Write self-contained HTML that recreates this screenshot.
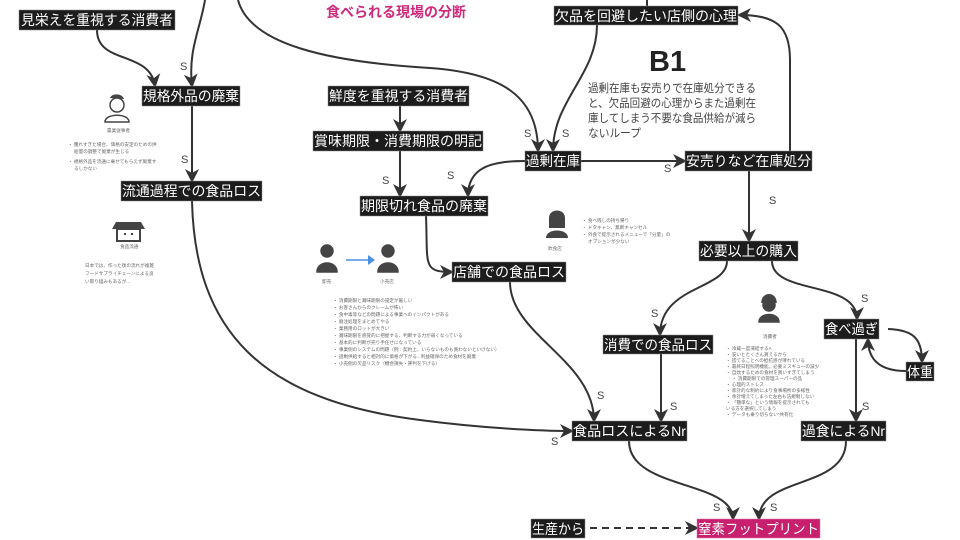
<!DOCTYPE html>
<html><head><meta charset="utf-8"><style>
html,body{margin:0;padding:0;background:#fff;}
svg{display:block;font-family:"Liberation Sans","Noto Sans CJK JP",sans-serif;}
.n rect{fill:#1c1c1c;stroke:#888;stroke-width:.5}
.n text{fill:#fff;font-size:14px;}
.e{fill:none;stroke:#333;stroke-width:2}
.s{font-size:11px;fill:#444;}
.t{font-size:4.6px;fill:#666;}
.ic{fill:#444;}
</style></head><body>
<svg width="960" height="540" viewBox="0 0 960 540" xmlns="http://www.w3.org/2000/svg">
<defs>
<marker id="a2" markerWidth="14" markerHeight="14" refX="12" refY="7" orient="auto" markerUnits="userSpaceOnUse" viewBox="0 0 14 14"><path d="M0,0 L14,7 L0,14 L4,7 z" fill="#333"/></marker>
</defs>
<!-- edges -->
<path class="e" marker-end="url(#a2)" d="M205,0 C200,30 188,50 192,86"/>
<path class="e" marker-end="url(#a2)" d="M97,30 C97,65 150,50 155,86"/>
<path class="e" marker-end="url(#a2)" d="M192,106 L192,181"/>
<path class="e" marker-end="url(#a2)" d="M192,201 C195,330 260,400 420,420 C480,428 540,431 572,431"/>
<path class="e" marker-end="url(#a2)" d="M238,0 C250,45 330,62 430,68 C500,73 538,95 538,151"/>
<path class="e" marker-end="url(#a2)" d="M597,25 C597,75 553,100 553,151"/>
<path class="e" d="M647,0 L647,6"/>
<path class="e" marker-end="url(#a2)" d="M581,161 L685,161"/>
<path class="e" marker-end="url(#a2)" d="M525,161 C490,161 468,168 468,196"/>
<path class="e" marker-end="url(#a2)" d="M400,106 L400,131"/>
<path class="e" marker-end="url(#a2)" d="M400,150 L400,196"/>
<path class="e" marker-end="url(#a2)" d="M426,216 C428,265 422,272 452,272"/>
<path class="e" marker-end="url(#a2)" d="M790,151 L790,60 C790,25 775,15 739,15"/>
<path class="e" marker-end="url(#a2)" d="M749,171 L749,241"/>
<path class="e" marker-end="url(#a2)" d="M727,261 C727,290 660,285 660,335"/>
<path class="e" marker-end="url(#a2)" d="M772,261 C772,295 857,280 857,319"/>
<path class="e" marker-end="url(#a2)" d="M510,282 C510,335 594,360 594,421"/>
<path class="e" marker-end="url(#a2)" d="M661,353 L661,421"/>
<path class="e" marker-end="url(#a2)" d="M856,339 L856,421"/>
<path class="e" marker-end="url(#a2)" d="M888,329 C915,330 922,340 922,362"/>
<path class="e" marker-end="url(#a2)" d="M906,371 C880,371 868,360 868,339"/>
<path class="e" marker-end="url(#a2)" d="M629,441 C629,490 733,480 733,519"/>
<path class="e" marker-end="url(#a2)" d="M846,441 C846,490 759,475 759,519"/>
<path class="e" stroke-dasharray="7,5" marker-end="url(#a2)" d="M590,528 L697,528"/>
<!-- S labels -->
<text class="s" x="180" y="70">S</text>
<text class="s" x="181" y="163">S</text>
<text class="s" x="524" y="137">S</text>
<text class="s" x="562" y="137">S</text>
<text class="s" x="664" y="172">S</text>
<text class="s" x="382" y="184">S</text>
<text class="s" x="447" y="179">S</text>
<text class="s" x="769" y="204">S</text>
<text class="s" x="651" y="317">S</text>
<text class="s" x="861" y="302">S</text>
<text class="s" x="597" y="399">S</text>
<text class="s" x="670" y="410">S</text>
<text class="s" x="862" y="410">S</text>
<text class="s" x="551" y="445">S</text>
<text class="s" x="713" y="511">S</text>
<text class="s" x="770" y="511">S</text>
<!-- nodes -->
<g class="n"><rect x="19" y="10" width="156" height="20"/><text x="21" y="25" textLength="152" lengthAdjust="spacingAndGlyphs">見栄えを重視する消費者</text></g>
<g class="n"><rect x="142" y="86" width="98" height="20"/><text x="143" y="101" textLength="96" lengthAdjust="spacingAndGlyphs">規格外品の廃棄</text></g>
<g class="n"><rect x="121" y="181" width="141" height="20"/><text x="122" y="196" textLength="139" lengthAdjust="spacingAndGlyphs">流通過程での食品ロス</text></g>
<g class="n"><rect x="328" y="86" width="141" height="20"/><text x="329" y="101" textLength="139" lengthAdjust="spacingAndGlyphs">鮮度を重視する消費者</text></g>
<g class="n"><rect x="313" y="131" width="170" height="20"/><text x="314" y="146" textLength="168" lengthAdjust="spacingAndGlyphs">賞味期限・消費期限の明記</text></g>
<g class="n"><rect x="360" y="196" width="128" height="20"/><text x="361" y="211" textLength="126" lengthAdjust="spacingAndGlyphs">期限切れ食品の廃棄</text></g>
<g class="n"><rect x="452" y="262" width="114" height="20"/><text x="453" y="277" textLength="112" lengthAdjust="spacingAndGlyphs">店舗での食品ロス</text></g>
<g class="n"><rect x="554" y="6" width="184" height="19"/><text x="555" y="21" textLength="182" lengthAdjust="spacingAndGlyphs">欠品を回避したい店側の心理</text></g>
<g class="n"><rect x="525" y="151" width="56" height="20"/><text x="526" y="166" textLength="54" lengthAdjust="spacingAndGlyphs">過剰在庫</text></g>
<g class="n"><rect x="685" y="151" width="127" height="20"/><text x="686" y="166" textLength="125" lengthAdjust="spacingAndGlyphs">安売りなど在庫処分</text></g>
<g class="n"><rect x="699" y="241" width="99" height="20"/><text x="700" y="256" textLength="97" lengthAdjust="spacingAndGlyphs">必要以上の購入</text></g>
<g class="n"><rect x="603" y="335" width="110" height="19"/><text x="604" y="350" textLength="108" lengthAdjust="spacingAndGlyphs">消費での食品ロス</text></g>
<g class="n"><rect x="824" y="319" width="55" height="20"/><text x="825" y="334" textLength="53" lengthAdjust="spacingAndGlyphs">食べ過ぎ</text></g>
<g class="n"><rect x="906" y="362" width="28" height="19"/><text x="907" y="377" textLength="26" lengthAdjust="spacingAndGlyphs">体重</text></g>
<g class="n"><rect x="572" y="421" width="115" height="20"/><text x="573" y="436" textLength="113" lengthAdjust="spacingAndGlyphs">食品ロスによるNr</text></g>
<g class="n"><rect x="801" y="421" width="85" height="20"/><text x="802" y="436" textLength="83" lengthAdjust="spacingAndGlyphs">過食によるNr</text></g>
<g class="n"><rect x="531" y="519" width="54" height="19"/><text x="532" y="534" textLength="52" lengthAdjust="spacingAndGlyphs">生産から</text></g>
<g><rect x="697" y="519" width="123" height="19" fill="#c8206e" stroke="#e070a0" stroke-width=".5"/><text x="698" y="534" fill="#fff" font-size="14" textLength="121" lengthAdjust="spacingAndGlyphs">窒素フットプリント</text></g>
<!-- title, B1 -->
<text x="326" y="17" fill="#d0287a" font-size="14" font-weight="bold" textLength="140" lengthAdjust="spacingAndGlyphs">食べられる現場の分断</text>
<text x="649" y="71" fill="#222" font-size="29" font-weight="bold">B1</text>
<g fill="#444" font-size="11.5"><text x="588" y="92" textLength="168" lengthAdjust="spacingAndGlyphs">過剰在庫も安売りで在庫処分できる</text><text x="588" y="107" textLength="168" lengthAdjust="spacingAndGlyphs">と、欠品回避の心理からまた過剰在</text><text x="588" y="122" textLength="168" lengthAdjust="spacingAndGlyphs">庫してしまう不要な食品供給が減ら</text><text x="588" y="137" textLength="53" lengthAdjust="spacingAndGlyphs">ないループ</text></g>
<!-- icons -->
<g class="ic"><circle cx="117" cy="105" r="7" fill="none" stroke="#444" stroke-width="1.5"/><path d="M105,122 C105,113 129,113 129,122 Z" fill="none" stroke="#444" stroke-width="1.5"/><path d="M110,98 C112,93 122,93 124,99 Z"/></g>
<text class="t" x="107" y="132">農業従事者</text>
<text class="t" x="68" y="146">・ 獲れすぎた場合、価格の安定のための供</text><text class="t" x="74" y="153">給量の調整で廃棄が生じる</text>
<text class="t" x="68" y="163">・ 規格外品を流通に乗せてもらえず廃棄す</text><text class="t" x="74" y="170">るしかない</text>
<g class="ic"><path d="M116,222 L141,222 L145,229 L112,229 Z"/><rect x="117" y="229" width="23" height="12" fill="none" stroke="#444" stroke-width="2"/><rect x="124" y="233" width="2" height="2"/><rect x="131" y="233" width="2" height="2"/></g>
<text class="t" x="120" y="248">食品流通</text>
<text class="t" x="85" y="267">日本では、作った後の流れが複雑</text><text class="t" x="85" y="275">フードサプライチェーンによる良</text><text class="t" x="85" y="283">い取り組みもあるが...</text>
<g class="ic" fill="none" stroke="#444" stroke-width="1.5"><circle cx="327" cy="251" r="6"/><path d="M317,272 C317,260 337,260 337,272 Z"/><circle cx="388" cy="251" r="6"/><path d="M378,272 C378,260 398,260 398,272 Z"/></g>
<path d="M346,260 L370,260" stroke="#4a90e2" stroke-width="1.5"/><path d="M368,255 L375,260 L368,265 Z" fill="#4a90e2"/>
<text class="t" x="322" y="283">卸売</text><text class="t" x="380" y="283">小売店</text>
<g class="t"><text x="333" y="302">・ 消費期限と賞味期限の設定が厳しい</text><text x="333" y="309">・ お客さんからのクレームが怖い</text><text x="333" y="316">・ 食中毒等などの問題による事業へのインパクトがある</text><text x="333" y="323">・ 廃注処理をまとめてやる</text><text x="333" y="330">・ 業務用のロットが大きい</text><text x="333" y="337">・ 賞味期限を感覚的に把握する、判断する力が弱くなっている</text><text x="333" y="344">・ 基本的に判断が売り手任せになっている</text><text x="333" y="351">・ 事業側のシステムの問題（例：契約上、いらないものも買わないといけない）</text><text x="333" y="358">・ 過剰供給すると相対的に価格が下がる...利益確保のため食材を廃棄</text><text x="333" y="365">・ 小売側の欠品リスク（機会損失・評判を下げる）</text></g>
<g class="ic"><circle cx="557" cy="218" r="6"/><path d="M549,218 L549,228 L565,228 L565,218 C565,208 549,208 549,218 Z"/><path d="M546,238 C546,228 568,228 568,238 Z"/></g>
<text class="t" x="548" y="250">飲食店</text>
<g class="t"><text x="582" y="222">・ 食べ残しの持ち帰り</text><text x="582" y="229">・ ドタキャン、無断キャンセル</text><text x="582" y="236">・ 外食で提示されるメニューで「分量」の</text><text x="588" y="243">オプションが少ない</text></g>
<g class="ic" fill="none" stroke="#444" stroke-width="1.5"><circle cx="769" cy="305" r="6"/><path d="M762,303 C762,292 776,292 776,303" fill="#444"/><path d="M759,322 C759,312 779,312 779,322 Z"/></g>
<text class="t" x="763" y="338">消費者</text>
<g class="t" font-size="3.8"><text x="726" y="350">・ 冷蔵一度凍結するA</text><text x="726" y="356">・ 安いとたくさん買えるから</text><text x="726" y="362">・ 捨てることへの抵抗感が薄れている</text><text x="726" y="368">・ 最終日程照明機能。必要ミスギューの減少</text><text x="726" y="374">・ 自炊するための食材を買いすぎてしまう</text><text x="732" y="380">・ 消費期限での管理スーパーの品</text><text x="726" y="386">・ 心理的ストレス</text><text x="726" y="392">・ 家計的な制約により食事場所の多様性</text><text x="726" y="398">・ 余計増えてしまった左右も法規制しない</text><text x="726" y="404">・ 「簡単な」という情報を提示されても</text><text x="726" y="410">いる方を選択してしまう</text><text x="726" y="416">・ データも乗り切らない"共有化</text></g>
</svg>
</body></html>
